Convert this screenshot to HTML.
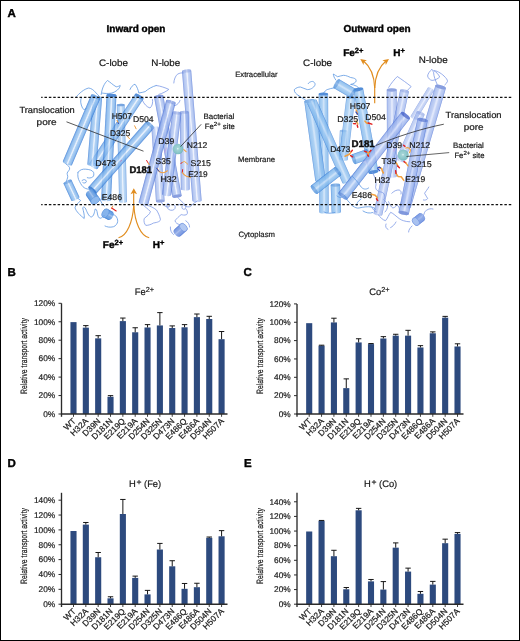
<!DOCTYPE html>
<html lang="en"><head><meta charset="utf-8"><title>Figure</title>
<style>
html,body{margin:0;padding:0;background:#fff;}
body{width:520px;height:641px;overflow:hidden;position:relative;}
#fig{position:absolute;left:0;top:0;width:520px;height:641px;box-sizing:border-box;border:1px solid #000;}
text{stroke:#1a1a1a;stroke-width:0.2px;text-rendering:geometricPrecision;}
text[font-weight=bold]{stroke:#000;stroke-width:0.4px;}
svg{position:absolute;left:0;top:0;display:block;font-family:"Liberation Sans", sans-serif;opacity:0.999;will-change:transform;}
</style></head><body>
<svg width="520" height="641" viewBox="0 0 520 641">
<g>
<rect x="70.45" y="322.12" width="6.1" height="91.88" fill="#2d4a7e"/>
<rect x="82.79" y="327.65" width="6.1" height="86.35" fill="#2d4a7e"/>
<path d="M85.84 327.65V325.62M83.14 325.62H88.54" stroke="#161616" stroke-width="1" fill="none"/>
<rect x="95.13" y="338.36" width="6.1" height="75.64" fill="#2d4a7e"/>
<path d="M98.18 338.36V335.68M95.48 335.68H100.88" stroke="#161616" stroke-width="1" fill="none"/>
<rect x="107.47" y="396.75" width="6.1" height="17.25" fill="#2d4a7e"/>
<path d="M110.52 396.75V395.64M107.82 395.64H113.22" stroke="#161616" stroke-width="1" fill="none"/>
<rect x="119.81" y="321.10" width="6.1" height="92.90" fill="#2d4a7e"/>
<path d="M122.86 321.10V318.06M120.16 318.06H125.56" stroke="#161616" stroke-width="1" fill="none"/>
<rect x="132.15" y="332.27" width="6.1" height="81.73" fill="#2d4a7e"/>
<path d="M135.20 332.27V327.75M132.50 327.75H137.90" stroke="#161616" stroke-width="1" fill="none"/>
<rect x="144.49" y="327.47" width="6.1" height="86.53" fill="#2d4a7e"/>
<path d="M147.54 327.47V324.61M144.84 324.61H150.24" stroke="#161616" stroke-width="1" fill="none"/>
<rect x="156.83" y="325.44" width="6.1" height="88.56" fill="#2d4a7e"/>
<path d="M159.88 325.44V312.62M157.18 312.62H162.58" stroke="#161616" stroke-width="1" fill="none"/>
<rect x="169.17" y="328.02" width="6.1" height="85.98" fill="#2d4a7e"/>
<path d="M172.22 328.02V325.90M169.52 325.90H174.92" stroke="#161616" stroke-width="1" fill="none"/>
<rect x="181.51" y="327.28" width="6.1" height="86.72" fill="#2d4a7e"/>
<path d="M184.56 327.28V324.61M181.86 324.61H187.26" stroke="#161616" stroke-width="1" fill="none"/>
<rect x="193.85" y="317.14" width="6.1" height="96.86" fill="#2d4a7e"/>
<path d="M196.90 317.14V314.00M194.20 314.00H199.60" stroke="#161616" stroke-width="1" fill="none"/>
<rect x="206.19" y="318.98" width="6.1" height="95.02" fill="#2d4a7e"/>
<path d="M209.24 318.98V316.31M206.54 316.31H211.94" stroke="#161616" stroke-width="1" fill="none"/>
<rect x="218.53" y="339.19" width="6.1" height="74.81" fill="#2d4a7e"/>
<path d="M221.58 339.19V331.53M218.88 331.53H224.28" stroke="#161616" stroke-width="1" fill="none"/>
<path d="M61.5 303.30V416.80" stroke="#2b2b2b" stroke-width="1.35" fill="none"/>
<path d="M60.90 414.00H227.50" stroke="#2b2b2b" stroke-width="1.35" fill="none"/>
<path d="M58.50 414.00H61.5" stroke="#2b2b2b" stroke-width="1"/>
<text x="55.20" y="416.75" font-size="8.3" text-anchor="end" fill="#1a1a1a">0%</text>
<path d="M58.50 395.55H61.5" stroke="#2b2b2b" stroke-width="1"/>
<text x="55.20" y="398.30" font-size="8.3" text-anchor="end" fill="#1a1a1a">20%</text>
<path d="M58.50 377.10H61.5" stroke="#2b2b2b" stroke-width="1"/>
<text x="55.20" y="379.85" font-size="8.3" text-anchor="end" fill="#1a1a1a">40%</text>
<path d="M58.50 358.65H61.5" stroke="#2b2b2b" stroke-width="1"/>
<text x="55.20" y="361.40" font-size="8.3" text-anchor="end" fill="#1a1a1a">60%</text>
<path d="M58.50 340.20H61.5" stroke="#2b2b2b" stroke-width="1"/>
<text x="55.20" y="342.95" font-size="8.3" text-anchor="end" fill="#1a1a1a">80%</text>
<path d="M58.50 321.75H61.5" stroke="#2b2b2b" stroke-width="1"/>
<text x="55.20" y="324.50" font-size="8.3" text-anchor="end" fill="#1a1a1a">100%</text>
<path d="M58.50 303.30H61.5" stroke="#2b2b2b" stroke-width="1"/>
<text x="55.20" y="306.05" font-size="8.3" text-anchor="end" fill="#1a1a1a">120%</text>
<path d="M73.50 414.00v2.8" stroke="#2b2b2b" stroke-width="0.9"/>
<text transform="translate(76.30 421.60) rotate(-45)" font-size="8.4" text-anchor="end" fill="#1a1a1a">WT</text>
<path d="M85.84 414.00v2.8" stroke="#2b2b2b" stroke-width="0.9"/>
<text transform="translate(88.64 421.60) rotate(-45)" font-size="8.4" text-anchor="end" fill="#1a1a1a">H32A</text>
<path d="M98.18 414.00v2.8" stroke="#2b2b2b" stroke-width="0.9"/>
<text transform="translate(100.98 421.60) rotate(-45)" font-size="8.4" text-anchor="end" fill="#1a1a1a">D39N</text>
<path d="M110.52 414.00v2.8" stroke="#2b2b2b" stroke-width="0.9"/>
<text transform="translate(113.32 421.60) rotate(-45)" font-size="8.4" text-anchor="end" fill="#1a1a1a">D181N</text>
<path d="M122.86 414.00v2.8" stroke="#2b2b2b" stroke-width="0.9"/>
<text transform="translate(125.66 421.60) rotate(-45)" font-size="8.4" text-anchor="end" fill="#1a1a1a">E219Q</text>
<path d="M135.20 414.00v2.8" stroke="#2b2b2b" stroke-width="0.9"/>
<text transform="translate(138.00 421.60) rotate(-45)" font-size="8.4" text-anchor="end" fill="#1a1a1a">E219A</text>
<path d="M147.54 414.00v2.8" stroke="#2b2b2b" stroke-width="0.9"/>
<text transform="translate(150.34 421.60) rotate(-45)" font-size="8.4" text-anchor="end" fill="#1a1a1a">D254N</text>
<path d="M159.88 414.00v2.8" stroke="#2b2b2b" stroke-width="0.9"/>
<text transform="translate(162.68 421.60) rotate(-45)" font-size="8.4" text-anchor="end" fill="#1a1a1a">D325N</text>
<path d="M172.22 414.00v2.8" stroke="#2b2b2b" stroke-width="0.9"/>
<text transform="translate(175.02 421.60) rotate(-45)" font-size="8.4" text-anchor="end" fill="#1a1a1a">D473N</text>
<path d="M184.56 414.00v2.8" stroke="#2b2b2b" stroke-width="0.9"/>
<text transform="translate(187.36 421.60) rotate(-45)" font-size="8.4" text-anchor="end" fill="#1a1a1a">E486Q</text>
<path d="M196.90 414.00v2.8" stroke="#2b2b2b" stroke-width="0.9"/>
<text transform="translate(199.70 421.60) rotate(-45)" font-size="8.4" text-anchor="end" fill="#1a1a1a">E486A</text>
<path d="M209.24 414.00v2.8" stroke="#2b2b2b" stroke-width="0.9"/>
<text transform="translate(212.04 421.60) rotate(-45)" font-size="8.4" text-anchor="end" fill="#1a1a1a">D504N</text>
<path d="M221.58 414.00v2.8" stroke="#2b2b2b" stroke-width="0.9"/>
<text transform="translate(224.38 421.60) rotate(-45)" font-size="8.4" text-anchor="end" fill="#1a1a1a">H507A</text>
<text transform="translate(27.2 356) rotate(-90) scale(0.73 1)" font-size="9.3" text-anchor="middle" fill="#1a1a1a">Relative transport activity</text>
</g>
<g>
<rect x="306.15" y="323.17" width="6.1" height="90.83" fill="#2d4a7e"/>
<rect x="318.51" y="345.65" width="6.1" height="68.35" fill="#2d4a7e"/>
<path d="M321.56 345.65V345.19M318.86 345.19H324.26" stroke="#161616" stroke-width="1" fill="none"/>
<rect x="330.87" y="322.43" width="6.1" height="91.57" fill="#2d4a7e"/>
<path d="M333.92 322.43V318.21M331.22 318.21H336.62" stroke="#161616" stroke-width="1" fill="none"/>
<rect x="343.23" y="388.13" width="6.1" height="25.87" fill="#2d4a7e"/>
<path d="M346.28 388.13V378.86M343.58 378.86H348.98" stroke="#161616" stroke-width="1" fill="none"/>
<rect x="355.59" y="342.44" width="6.1" height="71.56" fill="#2d4a7e"/>
<path d="M358.64 342.44V338.76M355.94 338.76H361.34" stroke="#161616" stroke-width="1" fill="none"/>
<rect x="367.95" y="344.09" width="6.1" height="69.91" fill="#2d4a7e"/>
<path d="M371.00 344.09V343.54M368.30 343.54H373.70" stroke="#161616" stroke-width="1" fill="none"/>
<rect x="380.31" y="338.49" width="6.1" height="75.51" fill="#2d4a7e"/>
<path d="M383.36 338.49V336.65M380.66 336.65H386.06" stroke="#161616" stroke-width="1" fill="none"/>
<rect x="392.67" y="335.65" width="6.1" height="78.35" fill="#2d4a7e"/>
<path d="M395.72 335.65V334.27M393.02 334.27H398.42" stroke="#161616" stroke-width="1" fill="none"/>
<rect x="405.03" y="335.65" width="6.1" height="78.35" fill="#2d4a7e"/>
<path d="M408.08 335.65V330.32M405.38 330.32H410.78" stroke="#161616" stroke-width="1" fill="none"/>
<rect x="417.39" y="347.48" width="6.1" height="66.52" fill="#2d4a7e"/>
<path d="M420.44 347.48V345.65M417.74 345.65H423.14" stroke="#161616" stroke-width="1" fill="none"/>
<rect x="429.75" y="333.26" width="6.1" height="80.74" fill="#2d4a7e"/>
<path d="M432.80 333.26V331.88M430.10 331.88H435.50" stroke="#161616" stroke-width="1" fill="none"/>
<rect x="442.11" y="317.66" width="6.1" height="96.34" fill="#2d4a7e"/>
<path d="M445.16 317.66V316.38M442.46 316.38H447.86" stroke="#161616" stroke-width="1" fill="none"/>
<rect x="454.47" y="346.47" width="6.1" height="67.53" fill="#2d4a7e"/>
<path d="M457.52 346.47V343.81M454.82 343.81H460.22" stroke="#161616" stroke-width="1" fill="none"/>
<path d="M297 303.90V416.80" stroke="#2b2b2b" stroke-width="1.35" fill="none"/>
<path d="M296.40 414.00H463.50" stroke="#2b2b2b" stroke-width="1.35" fill="none"/>
<path d="M294.00 414.00H297" stroke="#2b2b2b" stroke-width="1"/>
<text x="290.70" y="416.75" font-size="8.3" text-anchor="end" fill="#1a1a1a">0%</text>
<path d="M294.00 395.65H297" stroke="#2b2b2b" stroke-width="1"/>
<text x="290.70" y="398.40" font-size="8.3" text-anchor="end" fill="#1a1a1a">20%</text>
<path d="M294.00 377.30H297" stroke="#2b2b2b" stroke-width="1"/>
<text x="290.70" y="380.05" font-size="8.3" text-anchor="end" fill="#1a1a1a">40%</text>
<path d="M294.00 358.95H297" stroke="#2b2b2b" stroke-width="1"/>
<text x="290.70" y="361.70" font-size="8.3" text-anchor="end" fill="#1a1a1a">60%</text>
<path d="M294.00 340.60H297" stroke="#2b2b2b" stroke-width="1"/>
<text x="290.70" y="343.35" font-size="8.3" text-anchor="end" fill="#1a1a1a">80%</text>
<path d="M294.00 322.25H297" stroke="#2b2b2b" stroke-width="1"/>
<text x="290.70" y="325.00" font-size="8.3" text-anchor="end" fill="#1a1a1a">100%</text>
<path d="M294.00 303.90H297" stroke="#2b2b2b" stroke-width="1"/>
<text x="290.70" y="306.65" font-size="8.3" text-anchor="end" fill="#1a1a1a">120%</text>
<path d="M309.20 414.00v2.8" stroke="#2b2b2b" stroke-width="0.9"/>
<text transform="translate(312.00 421.60) rotate(-45)" font-size="8.4" text-anchor="end" fill="#1a1a1a">WT</text>
<path d="M321.56 414.00v2.8" stroke="#2b2b2b" stroke-width="0.9"/>
<text transform="translate(324.36 421.60) rotate(-45)" font-size="8.4" text-anchor="end" fill="#1a1a1a">H32A</text>
<path d="M333.92 414.00v2.8" stroke="#2b2b2b" stroke-width="0.9"/>
<text transform="translate(336.72 421.60) rotate(-45)" font-size="8.4" text-anchor="end" fill="#1a1a1a">D39N</text>
<path d="M346.28 414.00v2.8" stroke="#2b2b2b" stroke-width="0.9"/>
<text transform="translate(349.08 421.60) rotate(-45)" font-size="8.4" text-anchor="end" fill="#1a1a1a">D181N</text>
<path d="M358.64 414.00v2.8" stroke="#2b2b2b" stroke-width="0.9"/>
<text transform="translate(361.44 421.60) rotate(-45)" font-size="8.4" text-anchor="end" fill="#1a1a1a">E219Q</text>
<path d="M371.00 414.00v2.8" stroke="#2b2b2b" stroke-width="0.9"/>
<text transform="translate(373.80 421.60) rotate(-45)" font-size="8.4" text-anchor="end" fill="#1a1a1a">E219A</text>
<path d="M383.36 414.00v2.8" stroke="#2b2b2b" stroke-width="0.9"/>
<text transform="translate(386.16 421.60) rotate(-45)" font-size="8.4" text-anchor="end" fill="#1a1a1a">D254N</text>
<path d="M395.72 414.00v2.8" stroke="#2b2b2b" stroke-width="0.9"/>
<text transform="translate(398.52 421.60) rotate(-45)" font-size="8.4" text-anchor="end" fill="#1a1a1a">D325N</text>
<path d="M408.08 414.00v2.8" stroke="#2b2b2b" stroke-width="0.9"/>
<text transform="translate(410.88 421.60) rotate(-45)" font-size="8.4" text-anchor="end" fill="#1a1a1a">D473N</text>
<path d="M420.44 414.00v2.8" stroke="#2b2b2b" stroke-width="0.9"/>
<text transform="translate(423.24 421.60) rotate(-45)" font-size="8.4" text-anchor="end" fill="#1a1a1a">E486Q</text>
<path d="M432.80 414.00v2.8" stroke="#2b2b2b" stroke-width="0.9"/>
<text transform="translate(435.60 421.60) rotate(-45)" font-size="8.4" text-anchor="end" fill="#1a1a1a">E486A</text>
<path d="M445.16 414.00v2.8" stroke="#2b2b2b" stroke-width="0.9"/>
<text transform="translate(447.96 421.60) rotate(-45)" font-size="8.4" text-anchor="end" fill="#1a1a1a">D504N</text>
<path d="M457.52 414.00v2.8" stroke="#2b2b2b" stroke-width="0.9"/>
<text transform="translate(460.32 421.60) rotate(-45)" font-size="8.4" text-anchor="end" fill="#1a1a1a">H507A</text>
<text transform="translate(263 356) rotate(-90) scale(0.73 1)" font-size="9.3" text-anchor="middle" fill="#1a1a1a">Relative transport activity</text>
</g>
<g>
<rect x="70.45" y="531.01" width="6.1" height="73.19" fill="#2d4a7e"/>
<rect x="82.79" y="524.62" width="6.1" height="79.58" fill="#2d4a7e"/>
<path d="M85.84 524.62V522.47M83.14 522.47H88.54" stroke="#161616" stroke-width="1" fill="none"/>
<rect x="95.13" y="557.24" width="6.1" height="46.96" fill="#2d4a7e"/>
<path d="M98.18 557.24V552.49M95.48 552.49H100.88" stroke="#161616" stroke-width="1" fill="none"/>
<rect x="107.47" y="598.33" width="6.1" height="5.87" fill="#2d4a7e"/>
<path d="M110.52 598.33V596.77M107.82 596.77H113.22" stroke="#161616" stroke-width="1" fill="none"/>
<rect x="119.81" y="514.00" width="6.1" height="90.20" fill="#2d4a7e"/>
<path d="M122.86 514.00V499.44M120.16 499.44H125.56" stroke="#161616" stroke-width="1" fill="none"/>
<rect x="132.15" y="577.90" width="6.1" height="26.30" fill="#2d4a7e"/>
<path d="M135.20 577.90V576.11M132.50 576.11H137.90" stroke="#161616" stroke-width="1" fill="none"/>
<rect x="144.49" y="594.39" width="6.1" height="9.81" fill="#2d4a7e"/>
<path d="M147.54 594.39V590.38M144.84 590.38H150.24" stroke="#161616" stroke-width="1" fill="none"/>
<rect x="156.83" y="549.52" width="6.1" height="54.68" fill="#2d4a7e"/>
<path d="M159.88 549.52V543.42M157.18 543.42H162.58" stroke="#161616" stroke-width="1" fill="none"/>
<rect x="169.17" y="566.31" width="6.1" height="37.89" fill="#2d4a7e"/>
<path d="M172.22 566.31V560.73M169.52 560.73H174.92" stroke="#161616" stroke-width="1" fill="none"/>
<rect x="181.51" y="588.82" width="6.1" height="15.38" fill="#2d4a7e"/>
<path d="M184.56 588.82V583.47M181.86 583.47H187.26" stroke="#161616" stroke-width="1" fill="none"/>
<rect x="193.85" y="587.19" width="6.1" height="17.01" fill="#2d4a7e"/>
<path d="M196.90 587.19V583.25M194.20 583.25H199.60" stroke="#161616" stroke-width="1" fill="none"/>
<rect x="206.19" y="537.85" width="6.1" height="66.35" fill="#2d4a7e"/>
<path d="M209.24 537.85V537.03M206.54 537.03H211.94" stroke="#161616" stroke-width="1" fill="none"/>
<rect x="218.53" y="536.29" width="6.1" height="67.91" fill="#2d4a7e"/>
<path d="M221.58 536.29V530.64M218.88 530.64H224.28" stroke="#161616" stroke-width="1" fill="none"/>
<path d="M61.5 492.80V607.00" stroke="#2b2b2b" stroke-width="1.35" fill="none"/>
<path d="M60.90 604.20H227.50" stroke="#2b2b2b" stroke-width="1.35" fill="none"/>
<path d="M58.50 604.20H61.5" stroke="#2b2b2b" stroke-width="1"/>
<text x="55.20" y="606.95" font-size="8.3" text-anchor="end" fill="#1a1a1a">0%</text>
<path d="M58.50 589.34H61.5" stroke="#2b2b2b" stroke-width="1"/>
<text x="55.20" y="592.09" font-size="8.3" text-anchor="end" fill="#1a1a1a">20%</text>
<path d="M58.50 574.48H61.5" stroke="#2b2b2b" stroke-width="1"/>
<text x="55.20" y="577.23" font-size="8.3" text-anchor="end" fill="#1a1a1a">40%</text>
<path d="M58.50 559.62H61.5" stroke="#2b2b2b" stroke-width="1"/>
<text x="55.20" y="562.37" font-size="8.3" text-anchor="end" fill="#1a1a1a">60%</text>
<path d="M58.50 544.76H61.5" stroke="#2b2b2b" stroke-width="1"/>
<text x="55.20" y="547.51" font-size="8.3" text-anchor="end" fill="#1a1a1a">80%</text>
<path d="M58.50 529.90H61.5" stroke="#2b2b2b" stroke-width="1"/>
<text x="55.20" y="532.65" font-size="8.3" text-anchor="end" fill="#1a1a1a">100%</text>
<path d="M58.50 515.04H61.5" stroke="#2b2b2b" stroke-width="1"/>
<text x="55.20" y="517.79" font-size="8.3" text-anchor="end" fill="#1a1a1a">120%</text>
<path d="M58.50 500.18H61.5" stroke="#2b2b2b" stroke-width="1"/>
<text x="55.20" y="502.93" font-size="8.3" text-anchor="end" fill="#1a1a1a">140%</text>
<path d="M73.50 604.20v2.8" stroke="#2b2b2b" stroke-width="0.9"/>
<text transform="translate(76.30 611.80) rotate(-45)" font-size="8.4" text-anchor="end" fill="#1a1a1a">WT</text>
<path d="M85.84 604.20v2.8" stroke="#2b2b2b" stroke-width="0.9"/>
<text transform="translate(88.64 611.80) rotate(-45)" font-size="8.4" text-anchor="end" fill="#1a1a1a">H32A</text>
<path d="M98.18 604.20v2.8" stroke="#2b2b2b" stroke-width="0.9"/>
<text transform="translate(100.98 611.80) rotate(-45)" font-size="8.4" text-anchor="end" fill="#1a1a1a">D39N</text>
<path d="M110.52 604.20v2.8" stroke="#2b2b2b" stroke-width="0.9"/>
<text transform="translate(113.32 611.80) rotate(-45)" font-size="8.4" text-anchor="end" fill="#1a1a1a">D181N</text>
<path d="M122.86 604.20v2.8" stroke="#2b2b2b" stroke-width="0.9"/>
<text transform="translate(125.66 611.80) rotate(-45)" font-size="8.4" text-anchor="end" fill="#1a1a1a">E219Q</text>
<path d="M135.20 604.20v2.8" stroke="#2b2b2b" stroke-width="0.9"/>
<text transform="translate(138.00 611.80) rotate(-45)" font-size="8.4" text-anchor="end" fill="#1a1a1a">E219A</text>
<path d="M147.54 604.20v2.8" stroke="#2b2b2b" stroke-width="0.9"/>
<text transform="translate(150.34 611.80) rotate(-45)" font-size="8.4" text-anchor="end" fill="#1a1a1a">D254N</text>
<path d="M159.88 604.20v2.8" stroke="#2b2b2b" stroke-width="0.9"/>
<text transform="translate(162.68 611.80) rotate(-45)" font-size="8.4" text-anchor="end" fill="#1a1a1a">D325N</text>
<path d="M172.22 604.20v2.8" stroke="#2b2b2b" stroke-width="0.9"/>
<text transform="translate(175.02 611.80) rotate(-45)" font-size="8.4" text-anchor="end" fill="#1a1a1a">D473N</text>
<path d="M184.56 604.20v2.8" stroke="#2b2b2b" stroke-width="0.9"/>
<text transform="translate(187.36 611.80) rotate(-45)" font-size="8.4" text-anchor="end" fill="#1a1a1a">E486Q</text>
<path d="M196.90 604.20v2.8" stroke="#2b2b2b" stroke-width="0.9"/>
<text transform="translate(199.70 611.80) rotate(-45)" font-size="8.4" text-anchor="end" fill="#1a1a1a">E486A</text>
<path d="M209.24 604.20v2.8" stroke="#2b2b2b" stroke-width="0.9"/>
<text transform="translate(212.04 611.80) rotate(-45)" font-size="8.4" text-anchor="end" fill="#1a1a1a">D504N</text>
<path d="M221.58 604.20v2.8" stroke="#2b2b2b" stroke-width="0.9"/>
<text transform="translate(224.38 611.80) rotate(-45)" font-size="8.4" text-anchor="end" fill="#1a1a1a">H507A</text>
<text transform="translate(27.2 546) rotate(-90) scale(0.73 1)" font-size="9.3" text-anchor="middle" fill="#1a1a1a">Relative transport activity</text>
</g>
<g>
<rect x="306.15" y="531.49" width="6.1" height="72.71" fill="#2d4a7e"/>
<rect x="318.51" y="520.88" width="6.1" height="83.32" fill="#2d4a7e"/>
<path d="M321.56 520.88V520.44M318.86 520.44H324.26" stroke="#161616" stroke-width="1" fill="none"/>
<rect x="330.87" y="556.21" width="6.1" height="47.99" fill="#2d4a7e"/>
<path d="M333.92 556.21V550.29M331.22 550.29H336.62" stroke="#161616" stroke-width="1" fill="none"/>
<rect x="343.23" y="589.28" width="6.1" height="14.92" fill="#2d4a7e"/>
<path d="M346.28 589.28V587.52M343.58 587.52H348.98" stroke="#161616" stroke-width="1" fill="none"/>
<rect x="355.59" y="510.28" width="6.1" height="93.92" fill="#2d4a7e"/>
<path d="M358.64 510.28V508.37M355.94 508.37H361.34" stroke="#161616" stroke-width="1" fill="none"/>
<rect x="367.95" y="581.38" width="6.1" height="22.82" fill="#2d4a7e"/>
<path d="M371.00 581.38V579.48M368.30 579.48H373.70" stroke="#161616" stroke-width="1" fill="none"/>
<rect x="380.31" y="589.57" width="6.1" height="14.63" fill="#2d4a7e"/>
<path d="M383.36 589.57V581.60M380.66 581.60H386.06" stroke="#161616" stroke-width="1" fill="none"/>
<rect x="392.67" y="547.66" width="6.1" height="56.54" fill="#2d4a7e"/>
<path d="M395.72 547.66V542.90M393.02 542.90H398.42" stroke="#161616" stroke-width="1" fill="none"/>
<rect x="405.03" y="571.58" width="6.1" height="32.62" fill="#2d4a7e"/>
<path d="M408.08 571.58V568.14M405.38 568.14H410.78" stroke="#161616" stroke-width="1" fill="none"/>
<rect x="417.39" y="593.81" width="6.1" height="10.39" fill="#2d4a7e"/>
<path d="M420.44 593.81V591.47M417.74 591.47H423.14" stroke="#161616" stroke-width="1" fill="none"/>
<rect x="429.75" y="584.60" width="6.1" height="19.60" fill="#2d4a7e"/>
<path d="M432.80 584.60V581.38M430.10 581.38H435.50" stroke="#161616" stroke-width="1" fill="none"/>
<rect x="442.11" y="543.19" width="6.1" height="61.01" fill="#2d4a7e"/>
<path d="M445.16 543.19V539.17M442.46 539.17H447.86" stroke="#161616" stroke-width="1" fill="none"/>
<rect x="454.47" y="533.90" width="6.1" height="70.30" fill="#2d4a7e"/>
<path d="M457.52 533.90V532.59M454.82 532.59H460.22" stroke="#161616" stroke-width="1" fill="none"/>
<path d="M297 492.80V607.00" stroke="#2b2b2b" stroke-width="1.35" fill="none"/>
<path d="M296.40 604.20H463.50" stroke="#2b2b2b" stroke-width="1.35" fill="none"/>
<path d="M294.00 604.20H297" stroke="#2b2b2b" stroke-width="1"/>
<text x="290.70" y="606.95" font-size="8.3" text-anchor="end" fill="#1a1a1a">0%</text>
<path d="M294.00 589.57H297" stroke="#2b2b2b" stroke-width="1"/>
<text x="290.70" y="592.32" font-size="8.3" text-anchor="end" fill="#1a1a1a">20%</text>
<path d="M294.00 574.94H297" stroke="#2b2b2b" stroke-width="1"/>
<text x="290.70" y="577.69" font-size="8.3" text-anchor="end" fill="#1a1a1a">40%</text>
<path d="M294.00 560.31H297" stroke="#2b2b2b" stroke-width="1"/>
<text x="290.70" y="563.06" font-size="8.3" text-anchor="end" fill="#1a1a1a">60%</text>
<path d="M294.00 545.68H297" stroke="#2b2b2b" stroke-width="1"/>
<text x="290.70" y="548.43" font-size="8.3" text-anchor="end" fill="#1a1a1a">80%</text>
<path d="M294.00 531.05H297" stroke="#2b2b2b" stroke-width="1"/>
<text x="290.70" y="533.80" font-size="8.3" text-anchor="end" fill="#1a1a1a">100%</text>
<path d="M294.00 516.42H297" stroke="#2b2b2b" stroke-width="1"/>
<text x="290.70" y="519.17" font-size="8.3" text-anchor="end" fill="#1a1a1a">120%</text>
<path d="M294.00 501.79H297" stroke="#2b2b2b" stroke-width="1"/>
<text x="290.70" y="504.54" font-size="8.3" text-anchor="end" fill="#1a1a1a">140%</text>
<path d="M309.20 604.20v2.8" stroke="#2b2b2b" stroke-width="0.9"/>
<text transform="translate(312.00 611.80) rotate(-45)" font-size="8.4" text-anchor="end" fill="#1a1a1a">WT</text>
<path d="M321.56 604.20v2.8" stroke="#2b2b2b" stroke-width="0.9"/>
<text transform="translate(324.36 611.80) rotate(-45)" font-size="8.4" text-anchor="end" fill="#1a1a1a">H32A</text>
<path d="M333.92 604.20v2.8" stroke="#2b2b2b" stroke-width="0.9"/>
<text transform="translate(336.72 611.80) rotate(-45)" font-size="8.4" text-anchor="end" fill="#1a1a1a">D39N</text>
<path d="M346.28 604.20v2.8" stroke="#2b2b2b" stroke-width="0.9"/>
<text transform="translate(349.08 611.80) rotate(-45)" font-size="8.4" text-anchor="end" fill="#1a1a1a">D181N</text>
<path d="M358.64 604.20v2.8" stroke="#2b2b2b" stroke-width="0.9"/>
<text transform="translate(361.44 611.80) rotate(-45)" font-size="8.4" text-anchor="end" fill="#1a1a1a">E219Q</text>
<path d="M371.00 604.20v2.8" stroke="#2b2b2b" stroke-width="0.9"/>
<text transform="translate(373.80 611.80) rotate(-45)" font-size="8.4" text-anchor="end" fill="#1a1a1a">E219A</text>
<path d="M383.36 604.20v2.8" stroke="#2b2b2b" stroke-width="0.9"/>
<text transform="translate(386.16 611.80) rotate(-45)" font-size="8.4" text-anchor="end" fill="#1a1a1a">D254N</text>
<path d="M395.72 604.20v2.8" stroke="#2b2b2b" stroke-width="0.9"/>
<text transform="translate(398.52 611.80) rotate(-45)" font-size="8.4" text-anchor="end" fill="#1a1a1a">D325N</text>
<path d="M408.08 604.20v2.8" stroke="#2b2b2b" stroke-width="0.9"/>
<text transform="translate(410.88 611.80) rotate(-45)" font-size="8.4" text-anchor="end" fill="#1a1a1a">D473N</text>
<path d="M420.44 604.20v2.8" stroke="#2b2b2b" stroke-width="0.9"/>
<text transform="translate(423.24 611.80) rotate(-45)" font-size="8.4" text-anchor="end" fill="#1a1a1a">E486Q</text>
<path d="M432.80 604.20v2.8" stroke="#2b2b2b" stroke-width="0.9"/>
<text transform="translate(435.60 611.80) rotate(-45)" font-size="8.4" text-anchor="end" fill="#1a1a1a">E486A</text>
<path d="M445.16 604.20v2.8" stroke="#2b2b2b" stroke-width="0.9"/>
<text transform="translate(447.96 611.80) rotate(-45)" font-size="8.4" text-anchor="end" fill="#1a1a1a">D504N</text>
<path d="M457.52 604.20v2.8" stroke="#2b2b2b" stroke-width="0.9"/>
<text transform="translate(460.32 611.80) rotate(-45)" font-size="8.4" text-anchor="end" fill="#1a1a1a">H507A</text>
<text transform="translate(263 546) rotate(-90) scale(0.73 1)" font-size="9.3" text-anchor="middle" fill="#1a1a1a">Relative transport activity</text>
</g>
<text x="7.5" y="17.2" font-size="11.5" font-weight="bold" fill="#000">A</text>
<text x="7.5" y="276" font-size="11.5" font-weight="bold" fill="#000">B</text>
<text x="243.5" y="276.1" font-size="11.5" font-weight="bold" fill="#000">C</text>
<text x="7.5" y="467.3" font-size="11.5" font-weight="bold" fill="#000">D</text>
<text x="244" y="467.3" font-size="11.5" font-weight="bold" fill="#000">E</text>
<text x="134.8" y="295" font-size="9.4" fill="#1a1a1a">Fe<tspan dy="-3.3" font-size="7.3">2+</tspan></text>
<text x="369.3" y="295" font-size="9.4" fill="#1a1a1a">Co<tspan dy="-3.3" font-size="7.3">2+</tspan></text>
<text x="129" y="487.1" font-size="9.4" fill="#1a1a1a">H<tspan dx="0.6" dy="-2.3" font-size="8.6">+</tspan><tspan dy="2.3" font-size="9.4"> (Fe)</tspan></text>
<text x="364" y="487.1" font-size="9.4" fill="#1a1a1a">H<tspan dx="0.6" dy="-2.3" font-size="8.6">+</tspan><tspan dy="2.3" font-size="9.4"> (Co)</tspan></text>
<defs>
<linearGradient id="gc" x1="0" y1="0" x2="0" y2="1"><stop offset="0" stop-color="#266dce"/><stop offset="0.07" stop-color="#5090df"/><stop offset="0.16" stop-color="#77afea"/><stop offset="0.37" stop-color="#9ac4f1"/><stop offset="0.44" stop-color="#deebfb"/><stop offset="0.51" stop-color="#deebfb"/><stop offset="0.59" stop-color="#9ac4f1"/><stop offset="0.84" stop-color="#77afea"/><stop offset="0.93" stop-color="#5090df"/><stop offset="1" stop-color="#266dce"/></linearGradient>
<linearGradient id="gn" x1="0" y1="0" x2="0" y2="1"><stop offset="0" stop-color="#3f66d1"/><stop offset="0.07" stop-color="#6c8ddf"/><stop offset="0.16" stop-color="#92adea"/><stop offset="0.37" stop-color="#b0c4f2"/><stop offset="0.44" stop-color="#e6edfc"/><stop offset="0.51" stop-color="#e6edfc"/><stop offset="0.59" stop-color="#b0c4f2"/><stop offset="0.84" stop-color="#92adea"/><stop offset="0.93" stop-color="#6c8ddf"/><stop offset="1" stop-color="#3f66d1"/></linearGradient>
<linearGradient id="gc2" x1="0" y1="0" x2="0" y2="1"><stop offset="0" stop-color="#2c74d1"/><stop offset="0.05" stop-color="#5b9ae2"/><stop offset="0.11" stop-color="#7bb4eb"/><stop offset="0.34" stop-color="#97c5f1"/><stop offset="0.44" stop-color="#c0dbf7"/><stop offset="0.52" stop-color="#c0dbf7"/><stop offset="0.62" stop-color="#97c5f1"/><stop offset="0.89" stop-color="#7bb4eb"/><stop offset="0.95" stop-color="#5b9ae2"/><stop offset="1" stop-color="#2c74d1"/></linearGradient>
<linearGradient id="gn2" x1="0" y1="0" x2="0" y2="1"><stop offset="0" stop-color="#4268d0"/><stop offset="0.05" stop-color="#718fe1"/><stop offset="0.11" stop-color="#93adea"/><stop offset="0.34" stop-color="#afc2f2"/><stop offset="0.44" stop-color="#d5dffa"/><stop offset="0.52" stop-color="#d5dffa"/><stop offset="0.62" stop-color="#afc2f2"/><stop offset="0.89" stop-color="#93adea"/><stop offset="0.95" stop-color="#718fe1"/><stop offset="1" stop-color="#4268d0"/></linearGradient>
<radialGradient id="gs" cx="0.45" cy="0.45" r="0.6">
<stop offset="0" stop-color="#a9d8d8"/><stop offset="0.7" stop-color="#84c3c6"/><stop offset="1" stop-color="#6bb0b8"/>
</radialGradient>
</defs>
<g id="left-protein">
<path d="M76.2 97C79 93.5 84 89 88.8 88C91.5 88.5 93.5 90 95 91.8C96.5 93.5 98 95 99.5 96.5M81.5 97.5C80 100 80.5 104 82.5 108C83.5 110 85.5 110 86.5 108" fill="none" stroke="#5f99e2" stroke-width="0.85" stroke-linecap="round" stroke-linejoin="round" opacity="0.95"/>
<path d="M101.2 94.5C102 88 104.5 83 107.5 80.5C110 82 113 85 116.2 86.8C118 86.6 119.5 86 120.2 85.4C120 88.5 116 92 111.2 93.2C108 93.6 104.5 93.6 102 93" fill="none" stroke="#5f99e2" stroke-width="0.85" stroke-linecap="round" stroke-linejoin="round" opacity="0.95"/>
<path d="M130 89.5C131 87 133 84.8 135 84.2C137 86.5 138.2 90 138.8 93C141 92.6 143.5 92.2 145.2 91.6C148 89 152.5 86.5 156.2 85.5" fill="none" stroke="#5f99e2" stroke-width="0.85" stroke-linecap="round" stroke-linejoin="round" opacity="0.95"/>
<path d="M156.2 85.5C160.5 86 165.5 87.8 168.8 89.4C166 91.6 162.5 93.4 158.8 94.4M142.5 100.5C144 104 147 107.2 150 108C152.4 106 153 102.4 152.5 99.5" fill="none" stroke="#7f9ae6" stroke-width="0.85" stroke-linecap="round" stroke-linejoin="round" opacity="0.95"/>
<path d="M170 100.5C171 103 173 105.2 175 105.6C177.5 104.6 179.5 102.6 180 100.5M173.8 83C174 79.5 175.4 76 177.5 74.2C179.5 73 182 72.6 183.8 73" fill="none" stroke="#7f9ae6" stroke-width="0.85" stroke-linecap="round" stroke-linejoin="round" opacity="0.95"/>
<g transform="translate(120.7 105.0) rotate(88.6)" opacity="0.60"><path d="M0 -3.95H96.53A1.34 3.95 0 0 1 96.53 3.95H0A1.34 3.95 0 0 1 0 -3.95Z" fill="url(#gc)"/><ellipse cx="0" cy="0" rx="1.34" ry="3.95" fill="#1765c9" opacity="0.95"/></g>
<g transform="translate(139.2 96.6) rotate(123.4)" opacity="0.73"><path d="M0 -4.95H83.10A1.68 4.95 0 0 1 83.10 4.95H0A1.68 4.95 0 0 1 0 -4.95Z" fill="url(#gc)"/><ellipse cx="0" cy="0" rx="1.68" ry="4.95" fill="#1765c9" opacity="0.95"/></g>
<g transform="translate(97.5 97.5) rotate(94.7)" opacity="0.73"><path d="M0 -4.65H67.23A1.58 4.65 0 0 1 67.23 4.65H0A1.58 4.65 0 0 1 0 -4.65Z" fill="url(#gc)"/></g>
<g transform="translate(95.6 97.0) rotate(113.1)" opacity="0.78"><path d="M0 -4.95H71.73A1.68 4.95 0 0 1 71.73 4.95H0A1.68 4.95 0 0 1 0 -4.95Z" fill="url(#gc)"/><ellipse cx="0" cy="0" rx="1.68" ry="4.95" fill="#1765c9" opacity="0.45"/></g>
<g transform="translate(111.5 95.5) rotate(93.0)" opacity="0.76"><path d="M0 -4.95H104.15A1.68 4.95 0 0 1 104.15 4.95H0A1.68 4.95 0 0 1 0 -4.95Z" fill="url(#gc)"/><ellipse cx="0" cy="0" rx="1.68" ry="4.95" fill="#1765c9" opacity="0.95"/></g>
<g transform="translate(150.0 125.0) rotate(131.4)" opacity="0.79"><path d="M0 -5.20H86.87A1.77 5.20 0 0 1 86.87 5.20H0A1.77 5.20 0 0 1 0 -5.20Z" fill="url(#gc)"/><ellipse cx="0" cy="0" rx="1.77" ry="5.20" fill="#1765c9" opacity="0.45"/><ellipse cx="86.87" cy="0" rx="1.77" ry="5.20" fill="#1765c9" opacity="0.95"/></g>
<g transform="translate(67.6 182.0) rotate(65.1)" opacity="0.78"><path d="M0 -4.45H18.30A1.51 4.45 0 0 1 18.30 4.45H0A1.51 4.45 0 0 1 0 -4.45Z" fill="url(#gc)"/><ellipse cx="0" cy="0" rx="1.51" ry="4.45" fill="#1765c9" opacity="0.45"/></g>
<g transform="translate(90.4 193.4) rotate(55.6)"><path d="M0 -4.80H8.49A3.26 4.80 0 0 1 8.49 4.80H0A3.26 4.80 0 0 1 0 -4.80Z" fill="url(#gc)" opacity="0.9"/><path d="M0 -4.80H8.49A3.26 4.80 0 0 1 8.49 4.80H0A3.26 4.80 0 0 1 0 -4.80Z" fill="#4f8ad8" opacity="0.45"/><ellipse cx="8.49" cy="0" rx="3.26" ry="4.80" fill="#8fbaee" stroke="#4f8ad8" stroke-width="0.4"/></g>
<g transform="translate(105.4 213.2) rotate(27.6)"><path d="M0 -4.60H5.19A3.13 4.60 0 0 1 5.19 4.60H0A3.13 4.60 0 0 1 0 -4.60Z" fill="url(#gc)" opacity="0.9"/><path d="M0 -4.60H5.19A3.13 4.60 0 0 1 5.19 4.60H0A3.13 4.60 0 0 1 0 -4.60Z" fill="#4f8ad8" opacity="0.45"/><ellipse cx="0.00" cy="0" rx="3.13" ry="4.60" fill="#86b4ec" stroke="#4f8ad8" stroke-width="0.4"/></g>
<g transform="translate(186.6 71.0) rotate(85.4)" opacity="0.69"><path d="M0 -4.65H129.92A1.58 4.65 0 0 1 129.92 4.65H0A1.58 4.65 0 0 1 0 -4.65Z" fill="url(#gn)"/><ellipse cx="0" cy="0" rx="1.58" ry="4.65" fill="#5776d1" opacity="0.45"/></g>
<g transform="translate(184.2 112.3) rotate(89.2)" opacity="0.69"><path d="M0 -4.45H76.71A1.51 4.45 0 0 1 76.71 4.45H0A1.51 4.45 0 0 1 0 -4.45Z" fill="url(#gn)"/><ellipse cx="0" cy="0" rx="1.51" ry="4.45" fill="#5776d1" opacity="0.45"/></g>
<g transform="translate(155.8 128.0) rotate(86.5)" opacity="0.65"><path d="M0 -4.35H73.14A1.48 4.35 0 0 1 73.14 4.35H0A1.48 4.35 0 0 1 0 -4.35Z" fill="url(#gn)"/><ellipse cx="73.14" cy="0" rx="1.48" ry="4.35" fill="#5776d1" opacity="0.95"/></g>
<g transform="translate(158.7 96.5) rotate(79.6)" opacity="0.73"><path d="M0 -4.70H101.17A1.60 4.70 0 0 1 101.17 4.70H0A1.60 4.70 0 0 1 0 -4.70Z" fill="url(#gn)"/><ellipse cx="0" cy="0" rx="1.60" ry="4.70" fill="#5776d1" opacity="0.95"/><ellipse cx="101.17" cy="0" rx="1.60" ry="4.70" fill="#5776d1" opacity="0.95"/></g>
<g transform="translate(176.8 113.0) rotate(97.1)" opacity="0.73"><path d="M0 -4.60H82.14A1.56 4.60 0 0 1 82.14 4.60H0A1.56 4.60 0 0 1 0 -4.60Z" fill="url(#gn)"/><ellipse cx="0" cy="0" rx="1.56" ry="4.60" fill="#5776d1" opacity="0.45"/></g>
<g transform="translate(170.8 102.0) rotate(105.1)" opacity="0.79"><path d="M0 -4.95H104.94A1.68 4.95 0 0 1 104.94 4.95H0A1.68 4.95 0 0 1 0 -4.95Z" fill="url(#gn)"/><ellipse cx="0" cy="0" rx="1.68" ry="4.95" fill="#5776d1" opacity="0.45"/></g>
<g transform="translate(177.6 232.6) rotate(-41.9)"><path d="M0 -4.60H7.79A3.13 4.60 0 0 1 7.79 4.60H0A3.13 4.60 0 0 1 0 -4.60Z" fill="url(#gn)" opacity="0.9"/><path d="M0 -4.60H7.79A3.13 4.60 0 0 1 7.79 4.60H0A3.13 4.60 0 0 1 0 -4.60Z" fill="#5a80d8" opacity="0.45"/><ellipse cx="7.79" cy="0" rx="3.13" ry="4.60" fill="#b2c8f2" stroke="#5a80d8" stroke-width="0.4"/></g>
<path d="M65.8 163.8C68 165.5 70.2 167 69.6 169.2C68.6 171.5 66.4 172.5 67.3 174.6C68.5 176.8 67 179 66.5 181" fill="none" stroke="#5f99e2" stroke-width="0.85" stroke-linecap="round" stroke-linejoin="round" opacity="0.95"/>
<path d="M78 172.3C79.5 169.8 82.8 168.8 85.8 169.2C89 169.4 92.5 170.2 93.5 172.3C94.2 174.5 93.8 176 92.7 177C91 178.2 88.6 178.2 87.3 177.7" fill="none" stroke="#5f99e2" stroke-width="0.85" stroke-linecap="round" stroke-linejoin="round" opacity="0.95"/>
<path d="M78 172.3C77.4 175.5 78 179 79.6 181.5C81 184.5 82.4 186.5 84.2 187.7C86.2 189 88.6 189.4 90.4 189.2M82 180.5C83.5 179 86 179.4 86.4 181.4C86.2 183 84 183.6 82.8 182.6" fill="none" stroke="#5f99e2" stroke-width="0.85" stroke-linecap="round" stroke-linejoin="round" opacity="0.95"/>
<path d="M78 198.5C79.5 199.5 80.8 200 80.4 201C78 203 75.6 205 75 207.7C76 211.5 80.5 215.5 84.2 218.5C84.8 215 83.2 211 82.7 207.7C83.5 206.4 85 207.2 85.8 209C87.2 212.5 88.8 216.4 91.2 217C93.8 216.6 94.6 212 95 209.2C96.2 208.6 97 210.5 97.3 213C97.8 216 98.6 218.4 100.5 218.2C102 217.8 103 216.6 104 215.6" fill="none" stroke="#5f99e2" stroke-width="0.85" stroke-linecap="round" stroke-linejoin="round" opacity="0.95"/>
<path d="M111.5 214C114 214.6 116 215.6 116.5 217C117.8 219 118 221.4 117.3 223C116 225.6 114.4 226.8 112 227C109.4 227.4 107 227 105 226" fill="none" stroke="#5f99e2" stroke-width="0.85" stroke-linecap="round" stroke-linejoin="round" opacity="0.95"/>
<path d="M95 163.5C96.4 165 97.4 166.6 97 168.5M100 199C101 202 102.2 204.8 104.5 206" fill="none" stroke="#5f99e2" stroke-width="0.85" stroke-linecap="round" stroke-linejoin="round" opacity="0.95"/>
<path d="M142.7 204.6C145 207 148.4 209.2 150.4 211.5C150 214.4 146.4 216.4 144.2 218.5C143.6 221 144.2 223.8 145.8 225.4C148.4 225.4 151.4 224.4 153.5 223C157.4 222.4 160.8 221.4 160.4 219.2C159.6 215.6 158 212.4 156.5 210C153.6 207.6 150 206 147.3 205.4" fill="none" stroke="#7f9ae6" stroke-width="0.85" stroke-linecap="round" stroke-linejoin="round" opacity="0.95"/>
<path d="M161 202C163 205 166 207.4 169 207C170.4 205.4 169.4 203.4 167.6 203.4C166 204.6 166.6 207.6 168.6 209.4C171 211 174 210.4 175 208.4C175.8 206 174.4 204 172.6 204.6M177 196.5C179 199 181.4 201.4 183.4 203C185.6 205 186.6 207.6 185 209C183 210 181.4 208.4 182 206.4" fill="none" stroke="#7f9ae6" stroke-width="0.85" stroke-linecap="round" stroke-linejoin="round" opacity="0.95"/>
<path d="M178 205C180.4 204 183.4 204.4 185.6 206C188.2 207.6 190.8 207 192 205C193.4 203 195.4 202.4 197.5 201M186 209C187.6 211 188 213.4 186.6 214.6C184.4 215.6 182.4 214.8 181.2 214.6C179 216.4 176.4 218.6 175 220.8C175.6 223 177.6 224.2 179.6 224.6" fill="none" stroke="#7f9ae6" stroke-width="0.85" stroke-linecap="round" stroke-linejoin="round" opacity="0.95"/>
<path d="M170.4 227C170 230 171.4 233 173.5 234.6M185.8 220.8C188 222 189.6 224.4 189.6 227" fill="none" stroke="#7f9ae6" stroke-width="0.85" stroke-linecap="round" stroke-linejoin="round" opacity="0.95"/>
<path d="M117 120.4l1.2 2.3" fill="none" stroke="#f0a040" stroke-width="1.0" stroke-linecap="round" stroke-linejoin="round"/>
<path d="M118.2 122.7l0.3 0.9" fill="none" stroke="#3050c0" stroke-width="1.0" stroke-linecap="round" stroke-linejoin="round"/>
<path d="M134.6 125.8l1.5 3" fill="none" stroke="#f0a040" stroke-width="1.0" stroke-linecap="round" stroke-linejoin="round"/>
<path d="M127.4 136.5l2.2 2.3" fill="none" stroke="#f0a040" stroke-width="1.0" stroke-linecap="round" stroke-linejoin="round"/>
<path d="M120.6 161.3l0.9-0.8" fill="none" stroke="#d060a0" stroke-width="0.7" stroke-linecap="round" stroke-linejoin="round"/>
<path d="M112.8 206.2l-1.1 1.9" fill="none" stroke="#f0a040" stroke-width="1.0" stroke-linecap="round" stroke-linejoin="round"/>
<path d="M111.6 208l4.6 3" fill="none" stroke="#e02020" stroke-width="1.05" stroke-linecap="round" stroke-linejoin="round"/>
<path d="M146.6 160.4l1.8 3" fill="none" stroke="#e02020" stroke-width="1.0" stroke-linecap="round" stroke-linejoin="round"/>
<path d="M148.4 163.4l0.9 1.3" fill="none" stroke="#f0a040" stroke-width="1.1" stroke-linecap="round" stroke-linejoin="round"/>
<path d="M157.2 168.5c1 2.2 3 4.2 5.8 4.2c1.6 0 3-1 4.4-2" fill="none" stroke="#f0a040" stroke-width="1.05" stroke-linecap="round" stroke-linejoin="round"/>
<path d="M156.4 168l2.6 3.4" fill="none" stroke="#3050c0" stroke-width="1.0" stroke-linecap="round" stroke-linejoin="round"/>
<path d="M180.9 163.3l1.4-0.7" fill="none" stroke="#e02020" stroke-width="1.0" stroke-linecap="round" stroke-linejoin="round"/>
<path d="M182.3 162.5c0.9-0.8 1.7-1 2.4-0.9c1.2 0.8 2 1.8 3 2.6" fill="none" stroke="#f0a040" stroke-width="1.0" stroke-linecap="round" stroke-linejoin="round"/>
<path d="M182.6 169.6l-0.3 3" fill="none" stroke="#e02020" stroke-width="1.0" stroke-linecap="round" stroke-linejoin="round"/>
<path d="M182.4 172.6c1 1.6 2.4 2.8 4 3.6l4.2 1.2" fill="none" stroke="#f0a040" stroke-width="1.05" stroke-linecap="round" stroke-linejoin="round"/>
<path d="M166.2 148l-1.5 4.6" fill="none" stroke="#c9a0d8" stroke-width="0.8" stroke-linecap="round" stroke-linejoin="round"/>
<path d="M183.8 149.6l2.3 2" fill="none" stroke="#f0a040" stroke-width="1.1" stroke-linecap="round" stroke-linejoin="round"/>
<circle cx="178" cy="149" r="5.3" fill="url(#gs)" opacity="0.95"/><circle cx="177.8" cy="148.8" r="0.7" fill="#e8f8f8"/>
</g>
<g id="right-protein">
<path d="M298.7 95.7C296 94 294 92 294.3 89.6C296 87.8 298.4 87 300.4 87C303 87.6 305 89.2 307.3 89.6C309.6 89.6 311.4 88.8 312.5 87.9C314.4 86.6 315.4 85 315 83.6C314.2 81.8 312.8 81.2 311.6 81.5C309.8 82 308.4 82.8 308.2 83.6M298.7 95.7C300.6 97 303 98.6 305.5 100" fill="none" stroke="#5f99e2" stroke-width="0.85" stroke-linecap="round" stroke-linejoin="round" opacity="0.95"/>
<path d="M323.7 93C324.6 91.4 325.8 90.2 327.2 89.6C329.4 88.8 332 88.2 334 87.9" fill="none" stroke="#5f99e2" stroke-width="0.85" stroke-linecap="round" stroke-linejoin="round" opacity="0.95"/>
<path d="M335.8 80C334.4 78 333.4 76 333.3 74C334.8 74.8 336.2 76 337.6 76.7C339.6 76.4 341.6 75.4 343.6 75.3C346.2 75.4 348.6 76.6 350.6 77.5C352.6 77.8 354.6 78.2 355.7 79.2C356.6 80.6 356 82 354.9 82.7C353.6 83.6 352 84.2 350.6 84.4C352.8 84.6 355 85.2 356.6 86.2C357.8 87 358.6 87.8 359.2 88.4" fill="none" stroke="#5f99e2" stroke-width="0.85" stroke-linecap="round" stroke-linejoin="round" opacity="0.95"/>
<path d="M388.7 87.4C391 83.4 394.4 79.4 397.3 76.5C402 79.6 407 83.2 411.1 86.5C410.2 87.8 409 89 407.7 90" fill="none" stroke="#7f9ae6" stroke-width="0.85" stroke-linecap="round" stroke-linejoin="round" opacity="0.95"/>
<path d="M437 84C435.4 80.4 433.8 76.4 433.6 72.7C433 71 432.2 69.6 432 69.2C430 71 427.8 73.6 427.6 76C428.2 78.4 430 80 432 80.4C434.8 80.4 437.8 78.8 439.7 77C438.6 74.4 436 71.6 433.6 70.6C436 70.4 441 73 444 76C446 78 447.6 79.8 447.5 81.3C447 82.8 446 84 444.9 84.8" fill="none" stroke="#7f9ae6" stroke-width="0.85" stroke-linecap="round" stroke-linejoin="round" opacity="0.95"/>
<g transform="translate(430.9 89.3) rotate(121.3)" opacity="0.60"><path d="M0 -3.45H33.25A1.17 3.45 0 0 1 33.25 3.45H0A1.17 3.45 0 0 1 0 -3.45Z" fill="url(#gn2)"/></g>
<g transform="translate(420.6 113.4) rotate(113.8)" opacity="0.60"><path d="M0 -4.25H50.95A1.45 4.25 0 0 1 50.95 4.25H0A1.45 4.25 0 0 1 0 -4.25Z" fill="url(#gn2)"/><ellipse cx="0" cy="0" rx="1.45" ry="4.25" fill="#5776d1" opacity="0.45"/></g>
<g transform="translate(440.6 87.0) rotate(106.4)" opacity="0.73"><path d="M0 -5.45H124.07A1.85 5.45 0 0 1 124.07 5.45H0A1.85 5.45 0 0 1 0 -5.45Z" fill="url(#gn2)"/><ellipse cx="0" cy="0" rx="1.85" ry="5.45" fill="#5776d1" opacity="0.95"/></g>
<g transform="translate(391.7 90.0) rotate(89.8)" opacity="0.69"><path d="M0 -4.95H86.00A1.68 4.95 0 0 1 86.00 4.95H0A1.68 4.95 0 0 1 0 -4.95Z" fill="url(#gn2)"/><ellipse cx="0" cy="0" rx="1.68" ry="4.95" fill="#5776d1" opacity="0.95"/></g>
<g transform="translate(404.5 91.0) rotate(102.2)" opacity="0.69"><path d="M0 -4.45H125.82A1.51 4.45 0 0 1 125.82 4.45H0A1.51 4.45 0 0 1 0 -4.45Z" fill="url(#gn2)"/><ellipse cx="0" cy="0" rx="1.51" ry="4.45" fill="#5776d1" opacity="0.45"/></g>
<g transform="translate(323.4 94.0) rotate(89.7)" opacity="0.76"><path d="M0 -4.70H118.00A1.60 4.70 0 0 1 118.00 4.70H0A1.60 4.70 0 0 1 0 -4.70Z" fill="url(#gc2)"/><ellipse cx="0" cy="0" rx="1.60" ry="4.70" fill="#1765c9" opacity="0.95"/></g>
<g transform="translate(309.5 101.0) rotate(82.1)" opacity="0.76"><path d="M0 -5.25H79.76A1.79 5.25 0 0 1 79.76 5.25H0A1.79 5.25 0 0 1 0 -5.25Z" fill="url(#gc2)"/><ellipse cx="0" cy="0" rx="1.79" ry="5.25" fill="#1765c9" opacity="0.45"/></g>
<g transform="translate(343.5 131.0) rotate(92.3)" opacity="0.60"><path d="M0 -3.70H25.02A1.26 3.70 0 0 1 25.02 3.70H0A1.26 3.70 0 0 1 0 -3.70Z" fill="url(#gc2)"/><ellipse cx="0" cy="0" rx="1.26" ry="3.70" fill="#1765c9" opacity="0.45"/></g>
<g transform="translate(350.8 97.4) rotate(96.9)" opacity="0.69"><path d="M0 -4.45H62.25A1.51 4.45 0 0 1 62.25 4.45H0A1.51 4.45 0 0 1 0 -4.45Z" fill="url(#gc2)"/><ellipse cx="0" cy="0" rx="1.51" ry="4.45" fill="#1765c9" opacity="0.45"/></g>
<g transform="translate(358.3 89.5) rotate(79.6)" opacity="0.76"><path d="M0 -4.95H83.89A1.68 4.95 0 0 1 83.89 4.95H0A1.68 4.95 0 0 1 0 -4.95Z" fill="url(#gc2)"/><ellipse cx="0" cy="0" rx="1.68" ry="4.95" fill="#1765c9" opacity="0.95"/><ellipse cx="83.89" cy="0" rx="1.68" ry="4.95" fill="#1765c9" opacity="0.95"/></g>
<g transform="translate(336.6 83.8) rotate(30.4)" opacity="0.79"><path d="M0 -5.20H18.78A1.77 5.20 0 0 1 18.78 5.20H0A1.77 5.20 0 0 1 0 -5.20Z" fill="url(#gc2)"/><ellipse cx="0" cy="0" rx="1.77" ry="5.20" fill="#1765c9" opacity="0.45"/><ellipse cx="18.78" cy="0" rx="1.77" ry="5.20" fill="#1765c9" opacity="0.45"/></g>
<g transform="translate(312.0 102.0) rotate(66.1)" opacity="0.76"><path d="M0 -5.05H86.41A1.72 5.05 0 0 1 86.41 5.05H0A1.72 5.05 0 0 1 0 -5.05Z" fill="url(#gc2)"/></g>
<g transform="translate(353.8 159.2) rotate(-19.4)" opacity="0.82"><path d="M0 -5.20H15.05A1.77 5.20 0 0 1 15.05 5.20H0A1.77 5.20 0 0 1 0 -5.20Z" fill="url(#gc2)"/><ellipse cx="0" cy="0" rx="1.77" ry="5.20" fill="#1765c9" opacity="0.45"/><ellipse cx="15.05" cy="0" rx="1.77" ry="5.20" fill="#1765c9" opacity="0.45"/></g>
<g transform="translate(337.6 171.4) rotate(141.9)" opacity="0.82"><path d="M0 -5.20H29.63A1.77 5.20 0 0 1 29.63 5.20H0A1.77 5.20 0 0 1 0 -5.20Z" fill="url(#gc2)"/><ellipse cx="0" cy="0" rx="1.77" ry="5.20" fill="#1765c9" opacity="0.45"/><ellipse cx="29.63" cy="0" rx="1.77" ry="5.20" fill="#1765c9" opacity="0.45"/></g>
<g transform="translate(335.4 185.2) rotate(88.1)" opacity="0.79"><path d="M0 -4.70H26.82A1.60 4.70 0 0 1 26.82 4.70H0A1.60 4.70 0 0 1 0 -4.70Z" fill="url(#gc2)"/><ellipse cx="0" cy="0" rx="1.60" ry="4.70" fill="#1765c9" opacity="0.45"/></g>
<g transform="translate(422.5 120.0) rotate(101.4)" opacity="0.78"><path d="M0 -5.25H94.86A1.79 5.25 0 0 1 94.86 5.25H0A1.79 5.25 0 0 1 0 -5.25Z" fill="url(#gn2)"/><ellipse cx="0" cy="0" rx="1.79" ry="5.25" fill="#5776d1" opacity="0.95"/><ellipse cx="94.86" cy="0" rx="1.79" ry="5.25" fill="#5776d1" opacity="0.95"/></g>
<g transform="translate(405.5 115.6) rotate(127.9)" opacity="0.78"><path d="M0 -5.45H101.84A1.85 5.45 0 0 1 101.84 5.45H0A1.85 5.45 0 0 1 0 -5.45Z" fill="url(#gn2)"/><ellipse cx="0" cy="0" rx="1.85" ry="5.45" fill="#3b58c6" opacity="0.95"/><ellipse cx="101.84" cy="0" rx="1.85" ry="5.45" fill="#3b58c6" opacity="0.45"/></g>
<g transform="translate(366.0 166.4) rotate(127.8)" opacity="0.39"><path d="M0 -5.45H37.49A1.85 5.45 0 0 1 37.49 5.45H0A1.85 5.45 0 0 1 0 -5.45Z" fill="url(#gc2)"/><ellipse cx="37.49" cy="0" rx="1.85" ry="5.45" fill="#1765c9" opacity="0.45"/></g>
<g transform="translate(415.8 221.6) rotate(-38.2)"><path d="M0 -4.40H7.12A2.99 4.40 0 0 1 7.12 4.40H0A2.99 4.40 0 0 1 0 -4.40Z" fill="url(#gn2)" opacity="0.9"/><path d="M0 -4.40H7.12A2.99 4.40 0 0 1 7.12 4.40H0A2.99 4.40 0 0 1 0 -4.40Z" fill="#5e84da" opacity="0.45"/><ellipse cx="0.00" cy="0" rx="2.99" ry="4.40" fill="#a9c2f0" stroke="#5e84da" stroke-width="0.4"/></g>
<path d="M324 212C327 213.6 331 213.6 335 212.4M337 196C340 198.6 343 197.4 345 195M352.7 206C355 207.6 357 208.4 359 208C363 207 367.6 206.4 371.7 207C373.4 207.4 374.8 208.2 375.6 209.2M352 176C355 179 358.4 182.6 360.4 186C362.6 189.4 366 190 368.6 188" fill="none" stroke="#5f99e2" stroke-width="0.85" stroke-linecap="round" stroke-linejoin="round" opacity="0.95"/>
<path d="M372 172C374.6 176 376.4 180.6 376 185C374.6 188.6 377 191.6 381 192C384.6 192.8 386 196.6 384 199.6M378 214.4C380 217.4 383 220 385.5 220.7C387.6 218.6 388.6 214.6 390.7 212.3C393.4 213.4 396.4 216.6 399.2 218.6C400.8 219.6 402 220.4 403.4 220.7C405.6 221.4 407.8 221.8 409.8 221.8" fill="none" stroke="#7f9ae6" stroke-width="0.85" stroke-linecap="round" stroke-linejoin="round" opacity="0.95"/>
<path d="M391.8 193.3C393.6 191 396.6 189.8 399.2 190C401 190.6 401.6 192.4 401 194M428.8 187C427.6 189.4 425.6 191.4 424.6 193.3C425.4 195.4 427 197 427.7 198.5C426.6 200 424.8 200.4 423.4 200M433 209C431 208.4 428.6 208.8 426.7 210.2C425.4 211 424.8 211.6 424.6 212.3C424 214 423.4 215.6 423 217" fill="none" stroke="#7f9ae6" stroke-width="0.85" stroke-linecap="round" stroke-linejoin="round" opacity="0.95"/>
<path d="M386 224C385 226.4 386 228.6 388 229.4M396 222C394.6 224.6 392.6 226.6 390.6 227.6M412 226C410 228 408.6 230 408.6 232" fill="none" stroke="#7f9ae6" stroke-width="0.85" stroke-linecap="round" stroke-linejoin="round" opacity="0.95"/>
<path d="M388.6 201.7C389.6 204.6 391 207 392.9 208C394.6 207.6 396 206.4 397 205C398.6 206 399.6 208 399.4 210M371.7 207C373 209.6 374.6 211.4 376.4 212M384 200C386 201.6 387.4 203.6 387.6 206C387.4 208.6 386.4 210.6 385 212" fill="none" stroke="#7f9ae6" stroke-width="0.85" stroke-linecap="round" stroke-linejoin="round" opacity="0.95"/>
<path d="M361 199C358 201 356.4 203.4 356.6 205.6M345 196.6C346.4 199.6 349 202 352.7 206M363 211C366 213 369.6 213.6 372.6 212.6" fill="none" stroke="#5f99e2" stroke-width="0.85" stroke-linecap="round" stroke-linejoin="round" opacity="0.95"/>
<path d="M356.2 110l0.8 2.2l0.3 2" fill="none" stroke="#f0a040" stroke-width="1.5" stroke-linecap="round" stroke-linejoin="round"/>
<path d="M355.9 112l1.5 2.2" fill="none" stroke="#3050c0" stroke-width="1.3" stroke-linecap="round" stroke-linejoin="round"/>
<path d="M356 121l1 1.6l0.8 1.6" fill="none" stroke="#f0a040" stroke-width="1.5" stroke-linecap="round" stroke-linejoin="round"/>
<path d="M353.5 123.6l2 0.2M357.2 125.2l0.6 2" fill="none" stroke="#e02020" stroke-width="1.4" stroke-linecap="round" stroke-linejoin="round"/>
<path d="M365 121.2l1.6 1.8l1.6 0.4" fill="none" stroke="#f0a040" stroke-width="1.6" stroke-linecap="round" stroke-linejoin="round"/>
<path d="M368.2 123l3.6 1.2" fill="none" stroke="#e02020" stroke-width="1.4" stroke-linecap="round" stroke-linejoin="round"/>
<path d="M345 156.2l4.4-2l1.8-2.6" fill="none" stroke="#f0a040" stroke-width="1.5" stroke-linecap="round" stroke-linejoin="round"/>
<path d="M351.2 151.6l1.2-1.4M350.6 155.6l2 1.2" fill="none" stroke="#e02020" stroke-width="1.4" stroke-linecap="round" stroke-linejoin="round"/>
<path d="M366.8 152l1.6 1.4l1.4-1.6M368.4 153.4l-0.2 1.6" fill="none" stroke="#f0a040" stroke-width="1.5" stroke-linecap="round" stroke-linejoin="round"/>
<path d="M364.4 151.2l2 0.8M369.8 151.6l1.2-1.4M367.6 155l0.9 1.2" fill="none" stroke="#e02020" stroke-width="1.4" stroke-linecap="round" stroke-linejoin="round"/>
<path d="M379.2 167.2l2.6 1.6l0.6 2.4l1 1.8" fill="none" stroke="#f0a040" stroke-width="1.6" stroke-linecap="round" stroke-linejoin="round"/>
<path d="M377.6 168l1.4-0.8l1.4 0.6M378 169l1.6 1.6" fill="none" stroke="#3050c0" stroke-width="1.3" stroke-linecap="round" stroke-linejoin="round"/>
<path d="M371.4 194.2l3.8 1l2.2 2.6" fill="none" stroke="#f0a040" stroke-width="1.6" stroke-linecap="round" stroke-linejoin="round"/>
<path d="M376.4 198.8l1.4 1.8" fill="none" stroke="#e02020" stroke-width="1.4" stroke-linecap="round" stroke-linejoin="round"/>
<path d="M396.2 162.8l1 1.6l0.6 1.6" fill="none" stroke="#f0a040" stroke-width="1.5" stroke-linecap="round" stroke-linejoin="round"/>
<path d="M397.6 166l1.8 1.8" fill="none" stroke="#e02020" stroke-width="1.4" stroke-linecap="round" stroke-linejoin="round"/>
<path d="M396 173.4l2 3l3.2 0.4l2.6 3.6" fill="none" stroke="#f0a040" stroke-width="1.5" stroke-linecap="round" stroke-linejoin="round"/>
<path d="M395.6 170.6l0.4 2.8" fill="none" stroke="#e02020" stroke-width="1.4" stroke-linecap="round" stroke-linejoin="round"/>
<path d="M405.8 148c1.6-0.6 3.4 0 4.4 1.4c0.3 1 0 2.2-0.6 3.2" fill="none" stroke="#f0a040" stroke-width="1.3" stroke-linecap="round" stroke-linejoin="round"/>
<path d="M403.6 145.2l1.4 1.2" fill="none" stroke="#e02020" stroke-width="1.4" stroke-linecap="round" stroke-linejoin="round"/>
<path d="M404 161.6l1.8 1.3" fill="none" stroke="#e02020" stroke-width="1.4" stroke-linecap="round" stroke-linejoin="round"/>
<path d="M405.8 162.9l2.2 3" fill="none" stroke="#f0a040" stroke-width="1.3" stroke-linecap="round" stroke-linejoin="round"/>
<path d="M394.5 148.5l-0.6 2.8" fill="none" stroke="#c9a0d8" stroke-width="0.8" stroke-linecap="round" stroke-linejoin="round"/>
<circle cx="403.2" cy="155" r="5.5" fill="url(#gs)" opacity="0.95"/><circle cx="403" cy="154.8" r="0.7" fill="#e8f8f8"/>
</g>
<path d="M118.5 237.7C127 236 132.6 222 133.7 206V192" fill="none" stroke="#e18d1f" stroke-width="1.15"/>
<path d="M149.2 237.7C140.5 236 134.8 222 133.9 206" fill="none" stroke="#e18d1f" stroke-width="1.15"/>
<path d="M133.8 188.3l-3.3 5.9l3.3-1.4l3.3 1.4z" fill="#e18d1f"/>
<path d="M374.7 103.2V88C374.3 77 371 67 363.5 61" fill="none" stroke="#e18d1f" stroke-width="1.15"/>
<path d="M374.8 88C375.2 77 378.5 67 386 61" fill="none" stroke="#e18d1f" stroke-width="1.15"/>
<path d="M360.3 59l6.6 1.2l-2.9 1.6l-0.5 3.3z" fill="#e18d1f"/>
<path d="M389 59l-6.6 1.2l2.9 1.6l0.5 3.3z" fill="#e18d1f"/>
<path d="M66.5 121.8L143.5 151.2" stroke="#222" stroke-width="0.75" fill="none"/>
<path d="M201.2 124.3L180.6 146.6" stroke="#222" stroke-width="0.75" fill="none"/>
<path d="M443.8 124.2C420 129 396 137 375.8 145.5" stroke="#222" stroke-width="0.75" fill="none"/>
<path d="M449.2 152.6L406.5 156.5" stroke="#333" stroke-width="0.75" fill="none"/>
<text x="99.0" y="66" font-size="9.4" textLength="29.0" lengthAdjust="spacingAndGlyphs" text-anchor="start" fill="#151515">C-lobe</text>
<text x="151.3" y="66" font-size="9.4" textLength="29.0" lengthAdjust="spacingAndGlyphs" text-anchor="start" fill="#151515">N-lobe</text>
<text x="303.1" y="66.4" font-size="9.4" textLength="29.0" lengthAdjust="spacingAndGlyphs" text-anchor="start" fill="#151515">C-lobe</text>
<text x="418.7" y="62.7" font-size="9.4" textLength="29.0" lengthAdjust="spacingAndGlyphs" text-anchor="start" fill="#151515">N-lobe</text>
<text x="19.4" y="112.8" font-size="8.9" textLength="55.4" lengthAdjust="spacingAndGlyphs" text-anchor="start" fill="#151515">Translocation</text>
<text x="36.6" y="124.6" font-size="8.9" textLength="20.1" lengthAdjust="spacingAndGlyphs" text-anchor="start" fill="#151515">pore</text>
<text x="445.6" y="118.2" font-size="8.9" textLength="56.0" lengthAdjust="spacingAndGlyphs" text-anchor="start" fill="#151515">Translocation</text>
<text x="463.7" y="130.3" font-size="8.9" textLength="19.9" lengthAdjust="spacingAndGlyphs" text-anchor="start" fill="#151515">pore</text>
<text x="203.5" y="118.8" font-size="7.7" textLength="30.8" lengthAdjust="spacingAndGlyphs" fill="#151515">Bacterial</text>
<text x="204.8" y="128.5" font-size="7.7" fill="#151515">Fe<tspan dy="-2.7" font-size="6.1">2+</tspan><tspan dy="2.7" font-size="7.7"> site</tspan></text>
<text x="453.1" y="147.7" font-size="7.7" textLength="30.8" lengthAdjust="spacingAndGlyphs" fill="#151515">Bacterial</text>
<text x="454.40000000000003" y="157.7" font-size="7.7" fill="#151515">Fe<tspan dy="-2.7" font-size="6.1">2+</tspan><tspan dy="2.7" font-size="7.7"> site</tspan></text>
<text x="111.7" y="118.5" font-size="8.3" textLength="20.3" lengthAdjust="spacingAndGlyphs" text-anchor="start" fill="#151515">H507</text>
<text x="132.9" y="121.9" font-size="8.3" textLength="20.7" lengthAdjust="spacingAndGlyphs" text-anchor="start" fill="#151515">D504</text>
<text x="109.9" y="135.5" font-size="8.3" textLength="20.3" lengthAdjust="spacingAndGlyphs" text-anchor="start" fill="#151515">D325</text>
<text x="95.6" y="166.4" font-size="8.3" textLength="20.3" lengthAdjust="spacingAndGlyphs" text-anchor="start" fill="#151515">D473</text>
<text x="101.7" y="200" font-size="8.3" textLength="20.3" lengthAdjust="spacingAndGlyphs" text-anchor="start" fill="#151515">E486</text>
<text x="158.3" y="144.2" font-size="8.3" textLength="16.0" lengthAdjust="spacingAndGlyphs" text-anchor="start" fill="#151515">D39</text>
<text x="186.8" y="148" font-size="8.3" textLength="20.6" lengthAdjust="spacingAndGlyphs" text-anchor="start" fill="#151515">N212</text>
<text x="155.6" y="163.8" font-size="8.3" textLength="15.2" lengthAdjust="spacingAndGlyphs" text-anchor="start" fill="#151515">S35</text>
<text x="160.5" y="181.9" font-size="8.3" textLength="16.2" lengthAdjust="spacingAndGlyphs" text-anchor="start" fill="#151515">H32</text>
<text x="190.6" y="165.5" font-size="8.3" textLength="20.4" lengthAdjust="spacingAndGlyphs" text-anchor="start" fill="#151515">S215</text>
<text x="188.3" y="176.8" font-size="8.3" textLength="19.4" lengthAdjust="spacingAndGlyphs" text-anchor="start" fill="#151515">E219</text>
<text x="129.4" y="173.1" font-size="9.7" font-weight="bold" textLength="22.6" lengthAdjust="spacingAndGlyphs" text-anchor="start" fill="#151515">D181</text>
<text x="349.8" y="109.2" font-size="8.3" textLength="20.6" lengthAdjust="spacingAndGlyphs" text-anchor="start" fill="#151515">H507</text>
<text x="337.2" y="121.5" font-size="8.3" textLength="21.1" lengthAdjust="spacingAndGlyphs" text-anchor="start" fill="#151515">D325</text>
<text x="365.2" y="119.6" font-size="8.3" textLength="20.6" lengthAdjust="spacingAndGlyphs" text-anchor="start" fill="#151515">D504</text>
<text x="330.2" y="152" font-size="8.3" textLength="20.2" lengthAdjust="spacingAndGlyphs" text-anchor="start" fill="#151515">D473</text>
<text x="351.8" y="198.2" font-size="8.3" textLength="20.2" lengthAdjust="spacingAndGlyphs" text-anchor="start" fill="#151515">E486</text>
<text x="386.2" y="147.5" font-size="8.3" textLength="15.9" lengthAdjust="spacingAndGlyphs" text-anchor="start" fill="#151515">D39</text>
<text x="409.3" y="147.6" font-size="8.3" textLength="20.8" lengthAdjust="spacingAndGlyphs" text-anchor="start" fill="#151515">N212</text>
<text x="381.6" y="163.8" font-size="8.3" textLength="14.7" lengthAdjust="spacingAndGlyphs" text-anchor="start" fill="#151515">T35</text>
<text x="374.4" y="182.8" font-size="8.3" textLength="15.7" lengthAdjust="spacingAndGlyphs" text-anchor="start" fill="#151515">H32</text>
<text x="410.9" y="167.3" font-size="8.3" textLength="20.8" lengthAdjust="spacingAndGlyphs" text-anchor="start" fill="#151515">S215</text>
<text x="405.2" y="182.4" font-size="8.3" textLength="20.0" lengthAdjust="spacingAndGlyphs" text-anchor="start" fill="#151515">E219</text>
<text x="351.4" y="146.8" font-size="9.7" font-weight="bold" textLength="23.4" lengthAdjust="spacingAndGlyphs" text-anchor="start" fill="#151515">D181</text>
<text x="102.8" y="247.7" font-size="10" font-weight="bold" fill="#000">Fe<tspan dy="-3.1" font-size="7.5">2+</tspan></text>
<text x="152.8" y="247.7" font-size="10" font-weight="bold" fill="#000">H<tspan dy="-3.1" font-size="7.5">+</tspan></text>
<text x="343.2" y="55.7" font-size="10" font-weight="bold" fill="#000">Fe<tspan dy="-3.1" font-size="7.5">2+</tspan></text>
<text x="393.2" y="55.7" font-size="10" font-weight="bold" fill="#000">H<tspan dy="-3.1" font-size="7.5">+</tspan></text>
<path d="M41.2 97.3H511.6M41.2 204.6H511.6" stroke="#111" stroke-width="1.3" stroke-dasharray="2.5 1.88" stroke-dashoffset="1.1" fill="none"/>
<text x="136" y="32" font-size="10" font-weight="bold" text-anchor="middle" fill="#000">Inward open</text>
<text x="377" y="32" font-size="10" font-weight="bold" text-anchor="middle" fill="#000">Outward open</text>
<text x="235.2" y="76.7" font-size="7.7" fill="#1a1a1a">Extracellular</text>
<text x="238" y="161.8" font-size="7.75" fill="#1a1a1a">Membrane</text>
<text x="238.4" y="237" font-size="7.75" fill="#1a1a1a">Cytoplasm</text>
</svg>
<div id="fig"></div>
</body></html>
